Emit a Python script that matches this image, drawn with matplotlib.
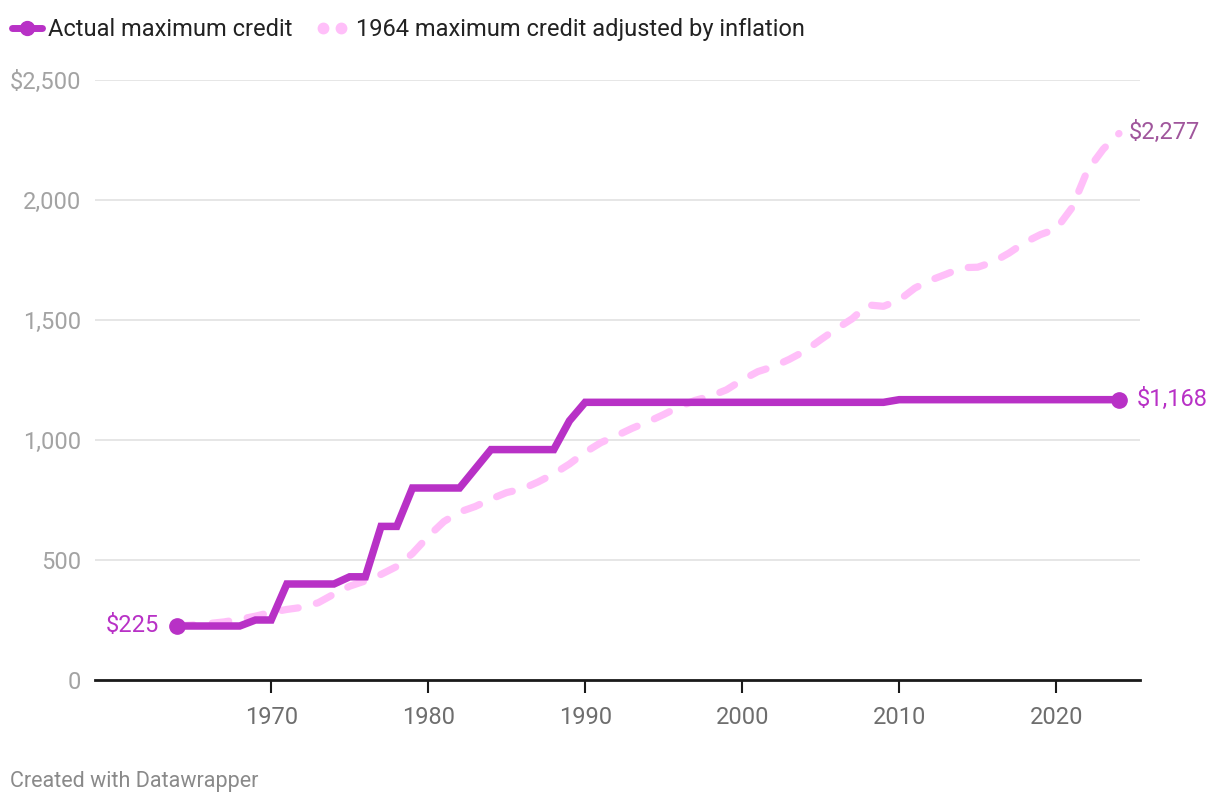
import matplotlib
matplotlib.use("Agg")
import matplotlib.pyplot as plt
from matplotlib.lines import Line2D

years = list(range(1964, 2025))
actual = [225, 225, 225, 225, 225, 250, 250, 400, 400, 400,
          400, 430, 430, 640, 640, 800, 800, 800, 800, 880,
          960, 960, 960, 960, 960, 1080, 1157, 1157, 1157, 1157,
          1157, 1157, 1157, 1157, 1157, 1157, 1157, 1157, 1157, 1157,
          1157, 1157, 1157, 1157, 1157, 1157, 1168, 1168, 1168, 1168,
          1168, 1168, 1168, 1168, 1168, 1168, 1168, 1168, 1168, 1168,
          1168]
adjusted = [225, 229, 235, 242, 253, 266, 282, 294, 303, 322,
            358, 391, 413, 440, 473, 527, 598, 660, 700, 723,
            754, 781, 796, 825, 859, 900, 949, 989, 1018, 1049,
            1076, 1106, 1139, 1165, 1183, 1209, 1250, 1285, 1306, 1336,
            1371, 1418, 1463, 1505, 1563, 1557, 1583, 1633, 1666, 1691,
            1718, 1720, 1742, 1779, 1823, 1856, 1879, 1967, 2124, 2212,
            2277]
yticks = [0, 500, 1000, 1500, 2000, 2500]
ytick_labels = ["0", "500", "1,000", "1,500", "2,000", "$2,500"]
xticks = [1970, 1980, 1990, 2000, 2010, 2020]
legend_labels = ["Actual maximum credit", "1964 maximum credit adjusted by inflation"]

PURPLE = "#b831c6"
PINK = "#ffbff9"
plt.rcParams["font.family"] = ["Roboto", "DejaVu Sans"]

fig = plt.figure(figsize=(12.2, 8.06), dpi=100)
ax = fig.add_axes([95/1220, 1-680/806, (1140-95)/1220, 600/806])

ax.plot(years, adjusted, color=PINK, lw=5.2, linestyle=(0, (2.3, 2.6)),
        dash_capstyle="round", solid_capstyle="round", zorder=3, clip_on=False)
ax.plot(years, actual, color=PURPLE, lw=5.4, solid_joinstyle="miter",
        solid_capstyle="butt", zorder=4, clip_on=False)
ax.plot([years[0], years[-1]], [actual[0], actual[-1]], "o", color=PURPLE,
        ms=11, zorder=5, clip_on=False)

ax.set_xlim(1958.78, 2025.34)
ax.set_ylim(0, 2500)
ax.set_yticks(yticks)
ax.set_yticklabels(ytick_labels)
ax.set_xticks(xticks)
ax.set_xticklabels([str(x) for x in xticks])
ax.grid(axis="y", color="#e1e1e1", lw=1.2, zorder=0)
ax.set_axisbelow(True)
for s in ["top", "right", "left"]:
    ax.spines[s].set_visible(False)
ax.spines["bottom"].set_color("#1a1a1a")
ax.spines["bottom"].set_linewidth(2)
ax.spines["bottom"].set_zorder(6)
ax.tick_params(axis="y", length=0, pad=10, labelsize=17, labelcolor="#a3a3a3")
ax.tick_params(axis="x", length=9, width=1.5, color="#1a1a1a", pad=10,
               labelsize=17, labelcolor="#6e6e6e", direction="out")

# end labels
ax.annotate("$225", (years[0], actual[0]), xytext=(-13, 0), textcoords="offset points",
            ha="right", va="center", fontsize=17, color=PURPLE)
ax.annotate("$1,168", (years[-1], actual[-1]), xytext=(13, 0), textcoords="offset points",
            ha="left", va="center", fontsize=17, color=PURPLE)
ax.annotate("$2,277", (years[-1], adjusted[-1]), xytext=(7, 1), textcoords="offset points",
            ha="left", va="center", fontsize=17, color="#a0569c")

# legend
ly = 1 - 28/806
lt = 1 - 29.5/806
fig.add_artist(Line2D([12/1220, 42/1220], [ly, ly], color=PURPLE, lw=5,
                      solid_capstyle="round", transform=fig.transFigure))
fig.add_artist(Line2D([27/1220], [ly], marker="o", ms=10, color=PURPLE,
                      transform=fig.transFigure))
fig.text(48/1220, lt, legend_labels[0], ha="left", va="center", fontsize=17, color="#222222")
fig.add_artist(Line2D([323/1220, 341/1220], [ly, ly], marker="o", ms=7.5, lw=0,
                      color=PINK, transform=fig.transFigure))
fig.text(356/1220, lt, legend_labels[1], ha="left", va="center", fontsize=17, color="#222222")

fig.text(10/1220, 1-782/806, "Created with Datawrapper", ha="left", va="center",
         fontsize=15.5, color="#8a8a8a")

fig.savefig("out.png", dpi=100)
